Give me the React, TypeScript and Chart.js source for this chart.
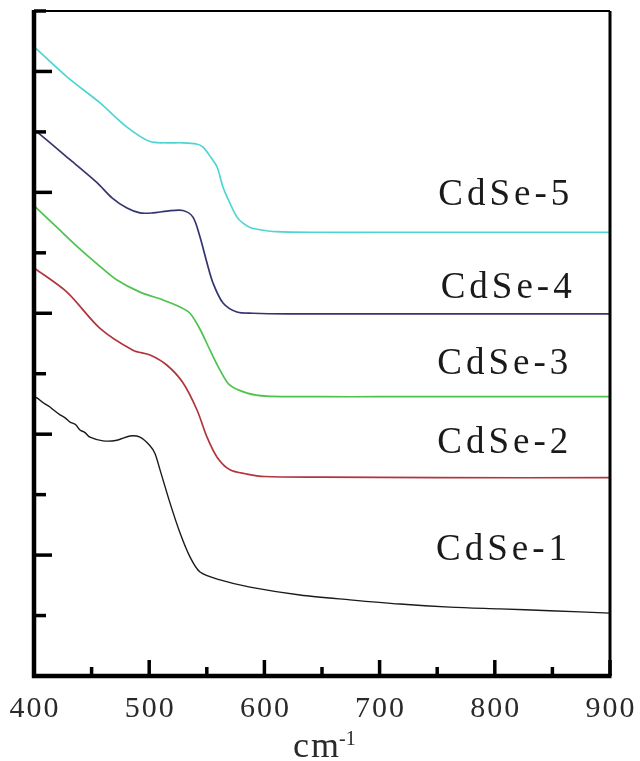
import React, { useEffect, useRef } from "react";
import { Chart, registerables } from "chart.js";

Chart.register(...registerables);

// ---- data (x in cm^-1, y in arbitrary offset units) ----
const cdse5X = [400, 428.6, 457.3, 480.7, 500.7, 515, 529, 541, 546.7, 552, 558.9, 564, 570.1, 576.2, 581.4, 587.5, 593.6, 610, 650, 700, 800, 900];
const cdse5Y = [10.41, 9.91, 9.48, 9.08, 8.84, 8.82, 8.82, 8.8, 8.75, 8.62, 8.42, 8.09, 7.82, 7.59, 7.49, 7.42, 7.39, 7.35, 7.34, 7.34, 7.34, 7.34];

const cdse4X = [400, 405.2, 431.3, 454.7, 467.7, 480.7, 492, 503, 515.5, 529.3, 538, 544.1, 550.2, 555.4, 564.1, 576.2, 590.1, 620, 700, 800, 900];
const cdse4Y = [9.03, 8.96, 8.54, 8.16, 7.91, 7.74, 7.66, 7.66, 7.69, 7.7, 7.59, 7.26, 6.83, 6.5, 6.17, 6.02, 6.0, 5.99, 5.99, 5.99, 5.99];

const cdse3X = [400, 420, 440, 457, 472, 492, 512, 527, 535.4, 544, 552.8, 561.5, 570, 585, 602, 650, 700, 800, 900];
const cdse3Y = [7.78, 7.42, 7.06, 6.78, 6.55, 6.35, 6.22, 6.1, 6.0, 5.74, 5.39, 5.06, 4.81, 4.68, 4.63, 4.62, 4.62, 4.62, 4.62];

const cdse2X = [400, 428.6, 457.3, 485.9, 500.7, 515.5, 529.3, 541.5, 550.2, 558.9, 570.1, 584.9, 600, 650, 750, 900];
const cdse2Y = [6.75, 6.35, 5.75, 5.39, 5.31, 5.14, 4.85, 4.4, 3.95, 3.62, 3.41, 3.34, 3.3, 3.29, 3.28, 3.28];

const cdse1X = [400, 402.6, 408, 413.9, 417, 422.6, 427, 431.3, 436, 439.9, 444, 448.6, 459.9, 472, 483.3, 492, 500.7, 505, 509.4, 518.1, 526.7, 535.4, 544.1, 561.5, 587.5, 630.9, 674.3, 717.7, 761.1, 804.5, 847.9, 900];
const cdse1Y = [4.62, 4.6, 4.52, 4.45, 4.4, 4.32, 4.27, 4.2, 4.16, 4.07, 4.03, 3.95, 3.89, 3.9, 3.97, 3.95, 3.81, 3.68, 3.41, 2.86, 2.37, 1.97, 1.72, 1.59, 1.47, 1.34, 1.26, 1.19, 1.14, 1.11, 1.08, 1.04];

const seriesNames = ["CdSe-1", "CdSe-2", "CdSe-3", "CdSe-4", "CdSe-5"];
const seriesColors = ["#1a1a1a", "#b0363c", "#4cc34c", "#35356e", "#4fd4d4"];
const labelX = [749, 750, 750, 753, 751];
const labelY = [1.92, 3.69, 5.0, 6.25, 7.79];

const xTickValues = [400, 450, 500, 550, 600, 650, 700, 750, 800, 850, 900];
const xTickLabels = ["400", "", "500", "", "600", "", "700", "", "800", "", "900"];
const yTickValues = [0, 1, 2, 3, 4, 5, 6, 7, 8, 9, 10, 11];

const axisTitle = "cm";
const axisTitleSup = "-1";

const SERIF = '"Liberation Serif", "Times New Roman", Times, "DejaVu Serif", serif';

const toPoints = (xs: number[], ys: number[]) => xs.map((x, i) => ({ x, y: ys[i] }));

const overlay = {
  id: "overlay",
  afterDraw(chart: any) {
    const { ctx, chartArea: a, scales } = chart;
    const xs = scales.x;
    const ys = scales.y;
    ctx.save();
    ctx.strokeStyle = "#000";
    ctx.fillStyle = "#000";
    ctx.lineCap = "butt";

    // frame
    ctx.lineWidth = 2;
    ctx.beginPath();
    ctx.moveTo(a.left, a.top);
    ctx.lineTo(a.right, a.top);
    ctx.stroke();
    ctx.lineWidth = 3;
    ctx.beginPath();
    ctx.moveTo(a.right, a.top);
    ctx.lineTo(a.right, a.bottom);
    ctx.stroke();
    ctx.lineWidth = 4.5;
    ctx.beginPath();
    ctx.moveTo(a.left, a.top - 1);
    ctx.lineTo(a.left, a.bottom + 2);
    ctx.stroke();
    ctx.beginPath();
    ctx.moveTo(a.left - 2, a.bottom);
    ctx.lineTo(a.right + 1.5, a.bottom);
    ctx.stroke();

    // y ticks (inward)
    ctx.lineWidth = 3.5;
    yTickValues.forEach((v) => {
      const py = ys.getPixelForValue(v);
      const len = v % 2 === 0 ? 18 : 12;
      ctx.beginPath();
      ctx.moveTo(a.left, py);
      ctx.lineTo(a.left + len, py);
      ctx.stroke();
    });

    // x ticks (inward)
    xTickValues.forEach((v) => {
      const px = xs.getPixelForValue(v);
      const len = v % 100 === 0 ? 16 : 9;
      ctx.beginPath();
      ctx.moveTo(px, a.bottom);
      ctx.lineTo(px, a.bottom - len);
      ctx.stroke();
    });

    // x tick labels
    ctx.font = "30px " + SERIF;
    (ctx as any).letterSpacing = "2px";
    ctx.textAlign = "center";
    ctx.textBaseline = "alphabetic";
    ctx.fillStyle = "#2a2a2a";
    xTickValues.forEach((v, i) => {
      if (!xTickLabels[i]) return;
      ctx.fillText(xTickLabels[i], xs.getPixelForValue(v) + 1, a.bottom + 41);
    });

    // axis title
    const cx = (a.left + a.right) / 2;
    ctx.textAlign = "left";
    ctx.font = "36px " + SERIF;
    (ctx as any).letterSpacing = "2px";
    const tx = cx - 29;
    ctx.fillText(axisTitle, tx, a.bottom + 81);
    const w = ctx.measureText(axisTitle).width;
    ctx.font = "20px " + SERIF;
    (ctx as any).letterSpacing = "0px";
    ctx.fillText(axisTitleSup, tx + w - 2, a.bottom + 69);

    // series labels
    ctx.font = "37px " + SERIF;
    (ctx as any).letterSpacing = "4px";
    ctx.fillStyle = "#1a1a1a";
    seriesNames.forEach((name, i) => {
      ctx.fillText(name, xs.getPixelForValue(labelX[i]), ys.getPixelForValue(labelY[i]));
    });

    ctx.restore();
  },
};

export default function App() {
  const ref = useRef<HTMLCanvasElement | null>(null);
  useEffect(() => {
    if (!ref.current) return;
    const xsArr = [cdse1X, cdse2X, cdse3X, cdse4X, cdse5X];
    const ysArr = [cdse1Y, cdse2Y, cdse3Y, cdse4Y, cdse5Y];
    const chart = new Chart(ref.current, {
      type: "line",
      data: {
        datasets: seriesNames.map((name, i) => ({
          label: name,
          data: toPoints(xsArr[i], ysArr[i]),
          borderColor: seriesColors[i],
          borderWidth: i === 0 ? 1.4 : 1.7,
          pointRadius: 0,
          fill: false,
          tension: 0.3,
        })),
      },
      options: {
        animation: false,
        responsive: false,
        events: [],
        layout: { padding: { left: 34, top: 11, right: 30, bottom: 85 } },
        plugins: { legend: { display: false }, tooltip: { enabled: false }, title: { display: false } },
        scales: {
          x: { type: "linear", min: 400, max: 900, display: false },
          y: { type: "linear", min: 0, max: 11, display: false },
        },
      },
      plugins: [overlay],
    });
    return () => chart.destroy();
  }, []);
  return (
    <div style={{ position: "absolute", left: 0, top: 0, width: 640, height: 761, background: "#fff" }}>
      <canvas ref={ref} width={640} height={761} style={{ display: "block" }} />
    </div>
  );
}
